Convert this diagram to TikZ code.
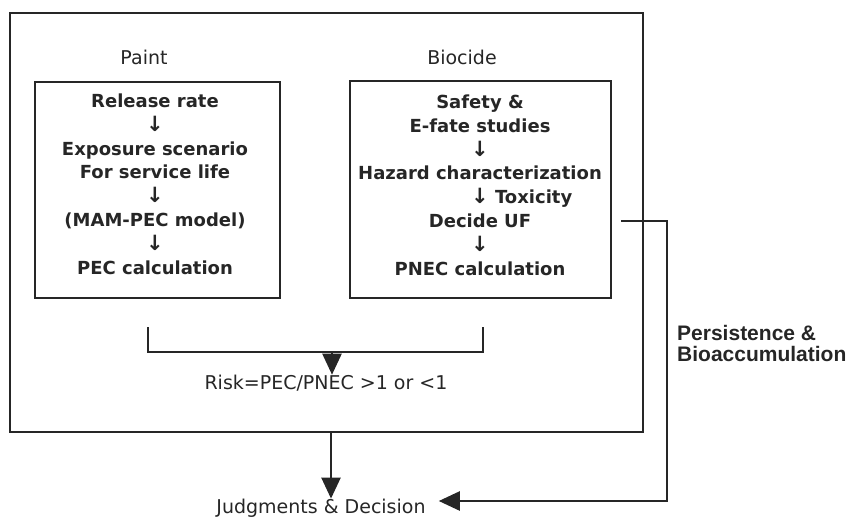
\documentclass[tikz,border=0pt]{standalone}
\usepackage{fontspec}
\setmainfont{DejaVu Sans}
\newfontfamily\arialfont{Liberation Sans}
\usetikzlibrary{arrows.meta}
\usetikzlibrary{calc}
\usetikzlibrary{positioning}

\newcommand{\dn}{{\fontsize{21}{23.8}\selectfont ↓}}

\begin{document}
\begin{tikzpicture}[x=1pt,y=-1pt,>={Triangle[length=21pt,width=19pt]},
  every node/.style={inner sep=0pt,text=black!85},
  frame/.style={draw=black!85,line width=1.4pt},
  stepstext/.style={align=center,font=\fontsize{18}{23.8}\selectfont\bfseries},
  plain/.style={font=\fontsize{19}{23}\selectfont},
  flow/.style={draw=black!85,line width=2.4pt}]
\useasboundingbox (0,0) rectangle (850,519);

% frames
\node[frame,minimum width=633pt,minimum height=419pt] (outer) at (326.5,222.5) {};
\node[frame,minimum width=245pt,minimum height=216pt] (paintbox) at (157.5,190) {};
\node[frame,minimum width=261pt,minimum height=217pt] (biobox) at (480.5,189.5) {};

\node[plain] (paint) at (144,57) {Paint};
\node[plain] (biocide) at (462,57) {Biocide};

\node[stepstext] (painttxt) at (155,184) {Release rate\\\dn\\Exposure scenario\\For service life\\\dn\\(MAM-PEC model)\\\dn\\PEC calculation};
\node[stepstext] (biotxt) at (480,185) {Safety \&\\E-fate studies\\\dn\\Hazard characterization\\\hphantom{\ Toxicity}\dn\ Toxicity\\Decide UF\\\dn\\PNEC calculation};

\node[plain] (risk) at (326,383) {Risk=PEC/PNEC >1 or <1};
\node[plain] (judge) at (321,508) {Judgments \& Decision};
\node[font=\arialfont\fontsize{21}{21}\selectfont\bfseries,align=left,anchor=west] (persist) at (677,343) {Persistence \&\\Bioaccumulation};

% bracket joining both boxes
\coordinate (lleg) at (148,327);
\coordinate (rleg) at (483,327);
\coordinate (join) at (332,352);
\draw[flow,line width=2pt] (lleg) |- (join) -| (rleg);
\draw[flow,->] (join) -- (join |- risk.north);

\coordinate (ax) at (331,0);
\draw[flow,->] (outer.south -| ax) -- (judge.north -| ax);

% feedback line
\coordinate (fb) at (621,221);
\draw[flow,->] (fb) -- ++(46,0) |- ([xshift=13pt,yshift=7pt]judge.east);
\end{tikzpicture}
\end{document}
